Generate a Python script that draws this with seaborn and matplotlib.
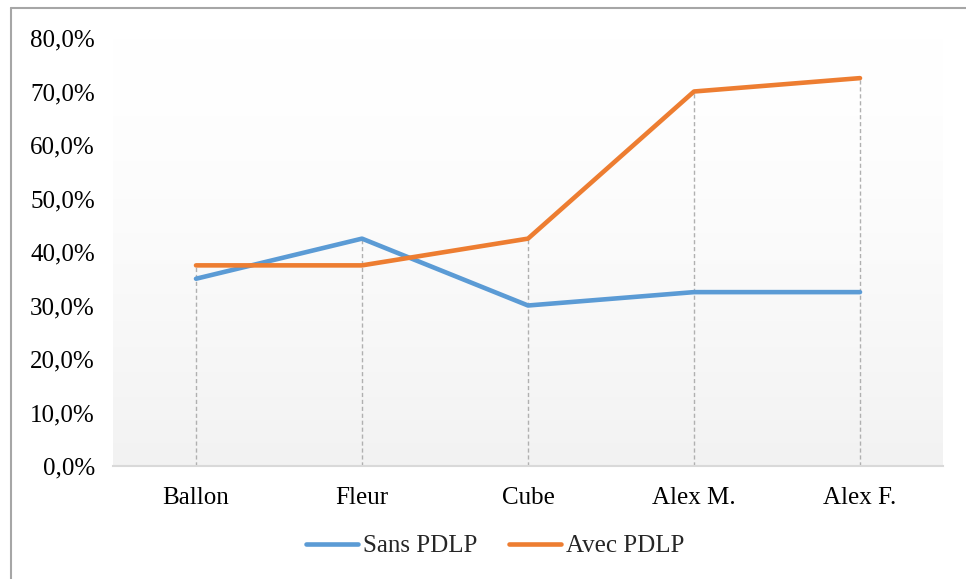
import numpy as np
import pandas as pd
import matplotlib
matplotlib.use("Agg")
import matplotlib.pyplot as plt
import seaborn as sns
from matplotlib.lines import Line2D

categories = ["Ballon", "Fleur", "Cube", "Alex M.", "Alex F."]
sans_pdlp = [35.0, 42.5, 30.0, 32.5, 32.5]
avec_pdlp = [37.5, 37.5, 42.5, 70.0, 72.5]
yticks = [0, 10, 20, 30, 40, 50, 60, 70, 80]
series_names = ["Sans PDLP", "Avec PDLP"]
colors = ["#5B9BD5", "#ED7D31"]

df = pd.DataFrame({
    "cat": categories * 2,
    "val": sans_pdlp + avec_pdlp,
    "serie": [series_names[0]] * 5 + [series_names[1]] * 5,
})

sns.set_theme(style="white")
plt.rcParams["font.family"] = ["Liberation Serif", "DejaVu Serif"]

fig = plt.figure(figsize=(9.66, 5.79), dpi=100)
ax = fig.add_axes([113 / 966, 1 - 466 / 579, (943 - 113) / 966, (466 - 38) / 579])
ax.set_facecolor("none")

# gradient background
grad = np.linspace(0, 1, 256).reshape(-1, 1)
top = np.array([1.0, 1.0, 1.0])
bot = np.array([0xf2, 0xf2, 0xf2]) / 255.0
img = top + (bot - top) * grad[:, :, None] ** 1.5
ax.imshow(img, extent=[-0.5, 4.5, 0, 80], aspect="auto", origin="upper", zorder=0)

# drop lines
xs = np.arange(len(categories))
maxv = np.maximum(sans_pdlp, avec_pdlp)
ax.vlines(xs, 0, maxv, colors="#b0b0b0", linestyles=(0, (3, 2)), linewidth=1.0, zorder=1)

sns.lineplot(data=df, x="cat", y="val", hue="serie", palette=colors, linewidth=3.3,
             sort=False, ax=ax, legend=False, zorder=3)

ax.set_xlim(-0.5, 4.5)
ax.set_ylim(0, 80)
ax.set_yticks(yticks)
ax.set_yticklabels([f"{v:.1f}".replace(".", ",") + "%" for v in yticks])
ax.set_xlabel("")
ax.set_ylabel("")
ax.tick_params(axis="both", length=0, labelsize=18, colors="#000000")
ax.tick_params(axis="y", pad=13)
ax.tick_params(axis="x", pad=15)
for s in ["top", "right", "left"]:
    ax.spines[s].set_visible(False)
ax.spines["bottom"].set_color("#d9d9d9")
ax.spines["bottom"].set_linewidth(1.5)
ax.grid(False)

handles = [Line2D([0], [0], color=c, lw=3.3, solid_capstyle="round") for c in colors]
fig.legend(handles, series_names, loc="center", bbox_to_anchor=(495 / 966, 1 - 546 / 579),
           ncol=2, frameon=False, fontsize=18, handlelength=2.1, columnspacing=1.25,
           handletextpad=0.2)

# outer border (left and top)
fig.add_artist(Line2D([11 / 966, 11 / 966], [0, 1 - 8 / 579], color="#a6a6a6", lw=1.5,
                      transform=fig.transFigure))
fig.add_artist(Line2D([11 / 966, 1], [1 - 8 / 579, 1 - 8 / 579], color="#a6a6a6", lw=1.5,
                      transform=fig.transFigure))

fig.savefig("out.png", dpi=100)
